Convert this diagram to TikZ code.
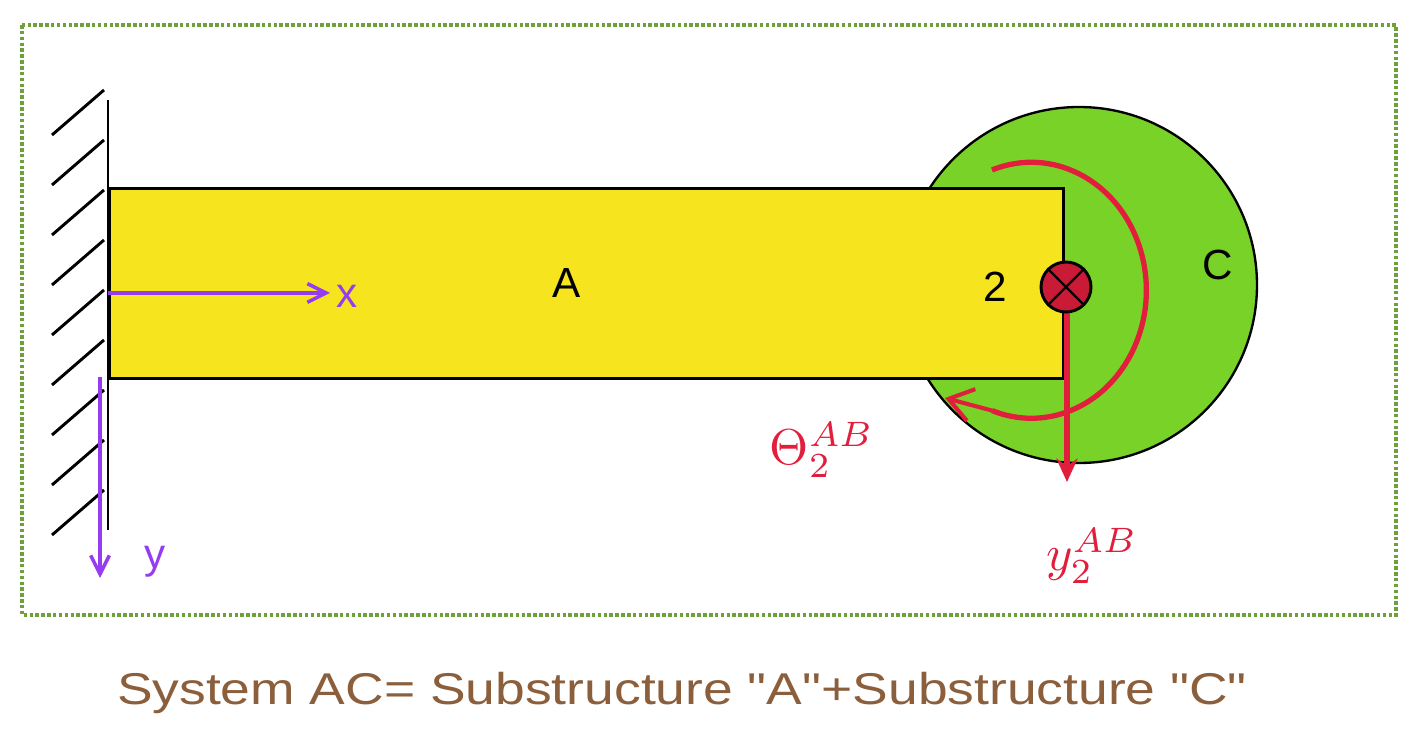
\documentclass[tikz,border=0pt]{standalone}
\usepackage{fontspec}
\setmainfont{Liberation Sans}
\newfontfamily\capfont{Liberation Sans}
\usepackage{graphicx}
\usetikzlibrary{arrows.meta}
\definecolor{frameg}{RGB}{110,160,60}
\definecolor{beamy}{RGB}{245,228,30}
\definecolor{discg}{RGB}{120,210,40}
\definecolor{redc}{RGB}{225,30,60}
\definecolor{purp}{RGB}{150,60,240}
\definecolor{capc}{RGB}{140,95,60}
\tikzset{lbl/.style={font=\fontsize{36}{42}\selectfont},
 parr/.style={purp,line width=3pt,-{Straight Barb[length=16pt,width=16pt]}},
 rarr/.style={redc,line width=4.5pt,-{Stealth[length=20pt,width=18pt]}}}
\begin{document}
\begin{tikzpicture}[x=0.03cm,y=-0.03cm]
\useasboundingbox (0,0) rectangle (1416,740);
\draw[frameg,line width=3pt,dotted] (22,25) rectangle (1396,615);
% wall
\draw[line width=2.5pt] (108,100) -- (108,530);
\foreach \yy in {90,140,190,240,290,340,390,440,490}
  \draw[line width=2.5pt] (104,\yy) -- (52,\yy+45);
% disc
\node[circle,draw,line width=2pt,fill=discg,minimum size=356*0.03cm] (disc) at (1079,285) {};
% beam
\node[draw,line width=2.5pt,fill=beamy,minimum width=954*0.03cm,minimum height=190*0.03cm,anchor=north west,inner sep=0] (beam) at (108,187) {};
\node[lbl] (A) at (567,283) {A};
\node[lbl] (two) at (995,287) {2};
\node[lbl] (C) at (1218,265) {C};
% axes
\coordinate (o) at (108,293);
\coordinate (xe) at (330,293);
\draw[parr] (o) -- (xe);
\node[lbl,purp] (x) at (347,296) {x};
\coordinate (yo) at (100,377);
\coordinate (ye) at (100,578);
\draw[parr] (yo) -- (ye);
\node[lbl,purp] (y) at (155,562) {y};
% rotation arc
\draw[redc,line width=4.5pt] (992,170) arc[start angle=110,end angle=-110,x radius=115,y radius=-128] coordinate (ae);
\draw[redc,line width=3.5pt,-{Straight Barb[length=20pt,width=28pt]}] (ae) -- (945,398);
\node[redc] (th) at (822,450) {\scalebox{4.3}{$\Theta_2^{AB}$}};
% node marker
\coordinate (yst) at (1067,300);
\coordinate (yen) at (1067,482);
\draw[rarr] (yst) -- (yen);
\node[circle,draw,line width=2.5pt,fill=redc!90!black,minimum size=50*0.03cm,inner sep=0] (n2) at (1066,287) {};
\draw[line width=2pt] (n2.north west) -- (n2.south east) (n2.north east) -- (n2.south west);
\node[redc] (yl) at (1092,556) {\scalebox{4.3}{$y_2^{AB}$}};
% caption
\node[font=\capfont\fontsize{38}{42}\selectfont,capc] (cap) at (682,693) {\scalebox{1.2}[1]{System AC= Substructure "A"+Substructure "C"}};
\end{tikzpicture}
\end{document}
